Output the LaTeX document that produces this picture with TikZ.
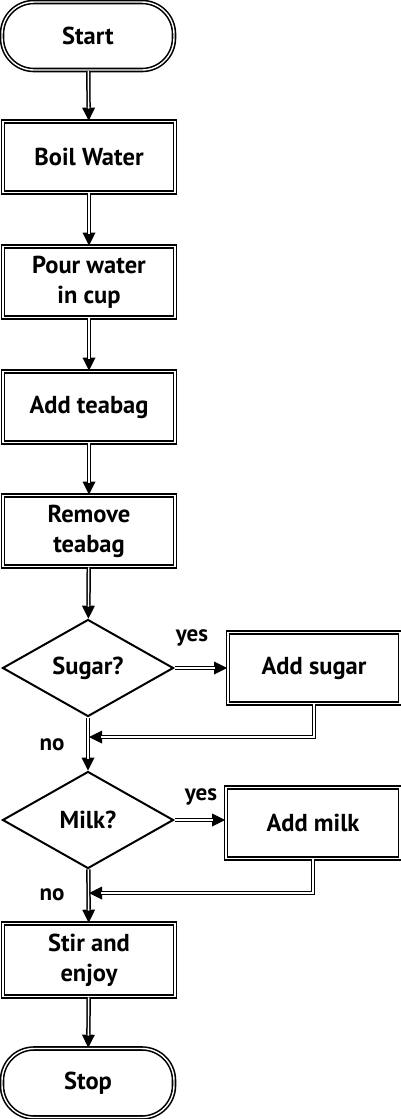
\documentclass[tikz,border=0pt]{standalone}
\usepackage{fontspec}
\setmainfont{PT Sans}
\usetikzlibrary{shapes.geometric,arrows.meta}
\tikzset{
  stepbox/.style={draw=black, line width=1.6pt, double=white, double distance=1.4pt, fill=white,
    minimum width=172pt, minimum height=71pt, inner sep=0pt, align=center, font=\fontsize{24.5}{30}\selectfont\bfseries},
  termbox/.style={stepbox, rounded corners=32pt, minimum height=68pt},
  decbox/.style={draw=black, line width=2pt, diamond, minimum width=171pt, minimum height=97pt,
    inner sep=0pt, align=center, font=\fontsize{24.5}{30}\selectfont\bfseries},
  conn/.style={draw=black, line width=4.4pt, -{Triangle[length=13pt,width=13pt,line width=0pt]},
    postaction={draw=white, line width=1.4pt, -, shorten >=12pt}},
  lbl/.style={font=\fontsize{23}{26}\selectfont\bfseries, inner sep=0pt}
}
\begin{document}
\begin{tikzpicture}[x=1pt,y=-1pt]
\useasboundingbox (0,0) rectangle (400,1119);
\node[termbox] (start) at (88,36) {Start};
\node[stepbox] (boil) at (89,157) {Boil Water};
\node[stepbox] (pour) at (89,282) {Pour water\\in cup};
\node[stepbox] (tea) at (89,407) {Add teabag};
\node[stepbox] (remove) at (89,531) {Remove\\teabag};
\node[decbox] (sugar) at (88,668) {Sugar?};
\node[stepbox] (addsugar) at (314,668) {Add sugar};
\node[decbox] (milk) at (88,820) {Milk?};
\node[stepbox, minimum width=174pt] (addmilk) at (313,823) {Add milk};
\node[stepbox, minimum height=73pt] (stir) at (89,960) {Stir and\\enjoy};
\node[termbox, minimum height=69pt] (stop) at (88,1083) {Stop};
\coordinate (m1) at (89,737);
\coordinate (m2) at (89,893);
\draw[conn] (start) -- (boil);
\draw[conn] (boil) -- (pour);
\draw[conn] (pour) -- (tea);
\draw[conn] (tea) -- (remove);
\draw[conn] (remove) -- (sugar);
\draw[conn] (sugar) -- (addsugar);
\draw[conn] (sugar) -- (milk);
\draw[conn] (addsugar.south) |- (m1);
\draw[conn] (milk) -- (addmilk.west |- milk);
\draw[conn] (milk) -- (stir);
\draw[conn] (addmilk.south) |- (m2);
\draw[conn] (stir) -- (stop);
\node[lbl] (yes1) at (192,638) {yes};
\node[lbl] (yes2) at (201,797) {yes};
\node[lbl] (no1) at (52,745) {no};
\node[lbl] (no2) at (52,895) {no};
\end{tikzpicture}
\end{document}
